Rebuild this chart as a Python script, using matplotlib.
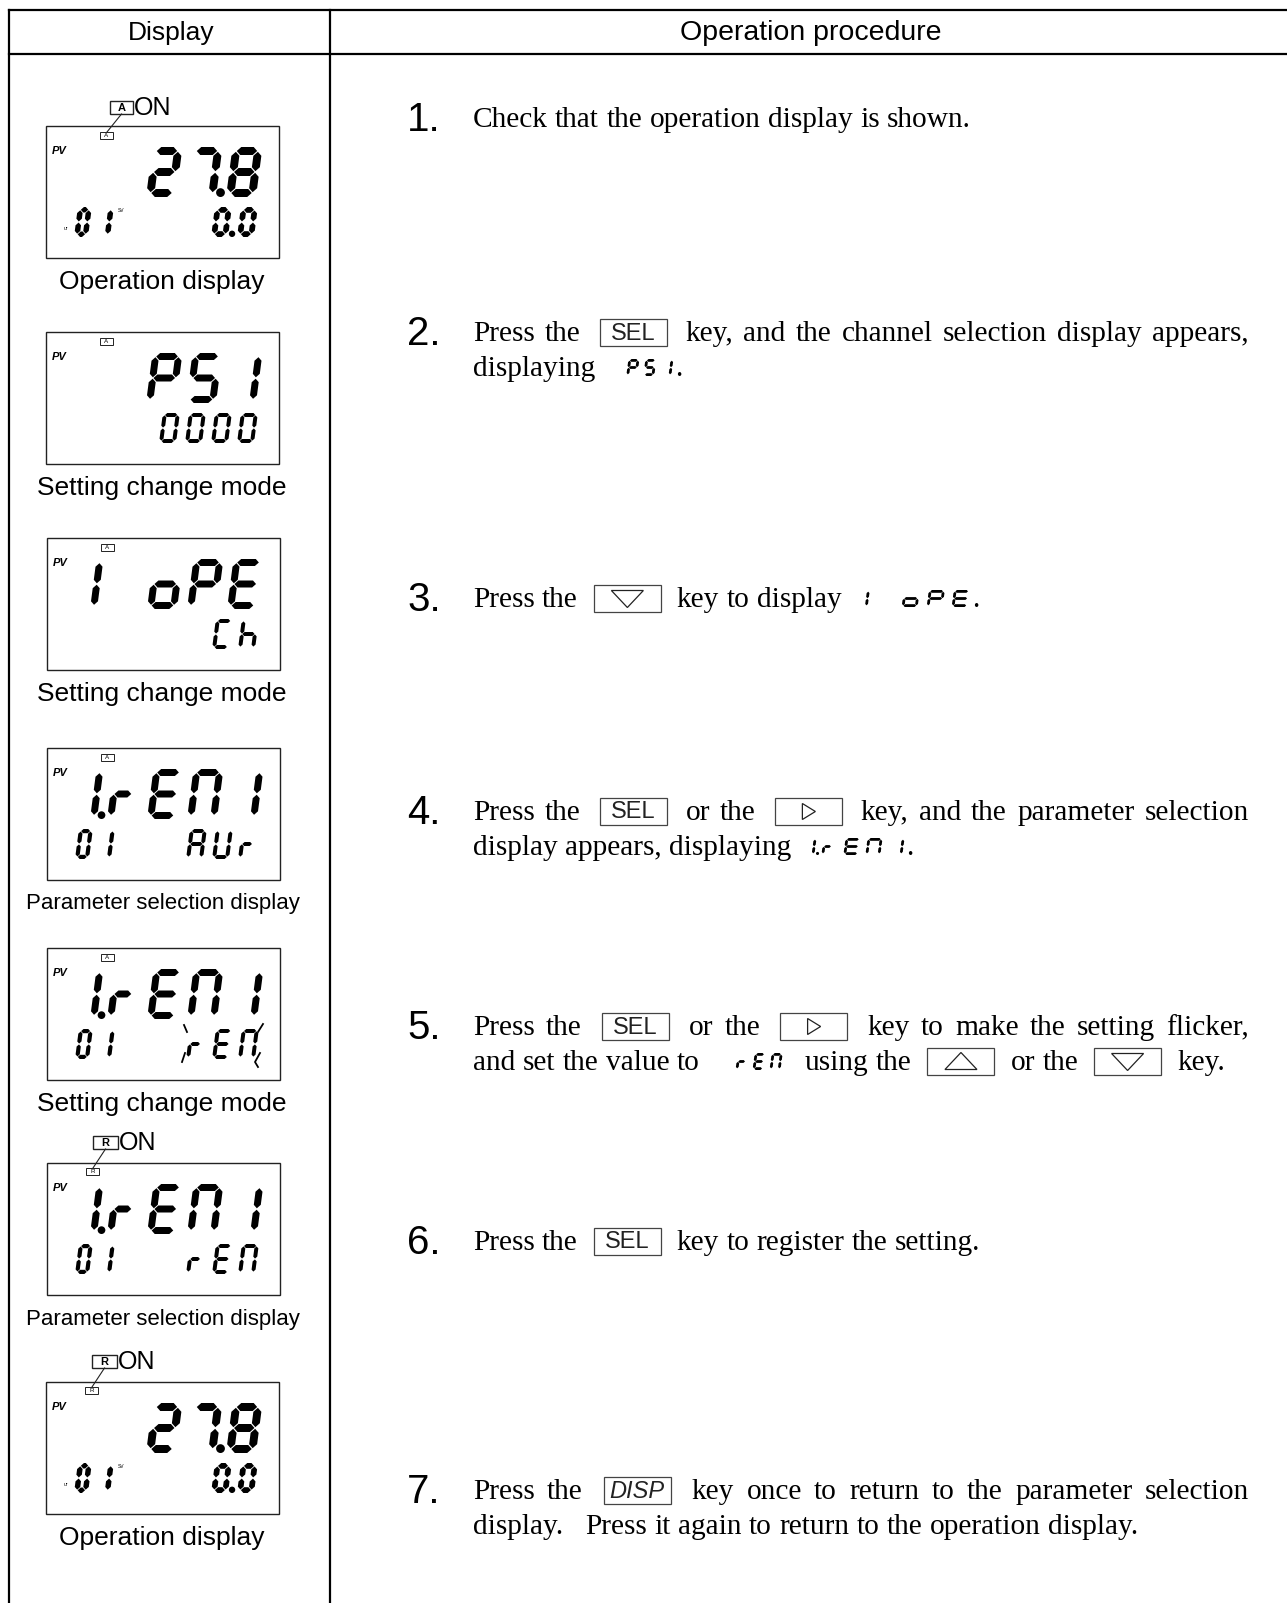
import re
import matplotlib
matplotlib.use("Agg")
import matplotlib.pyplot as plt
from matplotlib.patches import Polygon, Rectangle, Circle
from matplotlib import font_manager

W_PX, H_PX = 1287, 1603

# ---------------- content ----------------
header_left = "Display"
header_right = "Operation procedure"

display_top = ["27.8", "PS1", "1 oPE", "1.rEn1", "1.rEn1", "1.rEn1", "27.8"]
display_bottom_left = ["01", "", "", "01", "01", "01", "01"]
display_bottom_right = ["0.0", "0000", "Ch", "AUr", "rEn", "rEn", "0.0"]
display_lamp = ["A", "A", "A", "A", "A", "R", "R"]
display_lamp_on = [True, False, False, False, False, True, True]
display_flicker = [False, False, False, False, True, False, False]
display_operation = [True, False, False, False, False, False, True]
display_captions = ["Operation display", "Setting change mode", "Setting change mode",
                    "Parameter selection display", "Setting change mode",
                    "Parameter selection display", "Operation display"]

step_numbers = ["1", "2", "3", "4", "5", "6", "7"]
step_lines = [
    ["Check that the operation display is shown."],
    ["Press the [SEL] key, and the channel selection display appears,",
     "displaying {PS1}."],
    ["Press the [DOWN] key to display {1 oPE}."],
    ["Press the [SEL] or the [RIGHT] key, and the parameter selection",
     "display appears, displaying {1.rEn1}."],
    ["Press the [SEL] or the [RIGHT] key to make the setting flicker,",
     "and set the value to {rEn} using the [UP] or the [DOWN] key."],
    ["Press the [SEL] key to register the setting."],
    ["Press the [DISP] key once to return to the parameter selection",
     "display.   Press it again to return to the operation display."],
]
step_justify_first = [False, True, False, True, True, False, True]

# ---------------- layout ----------------
box_left = [46, 46, 47, 47, 47, 47, 46]
box_top = [126, 332, 538, 748, 948, 1163, 1382]
BOX_W, BOX_H = 233, 132
step_baseline = [127, 341, 607, 820, 1035, 1250, 1499]
LINE_GAP = 35
TEXT_X0, TEXT_X1 = 473, 1249
NUM_X = 407
KEY_W, KEY_H = 67, 27
TXT_FS = 21.2
SERIF = ["Liberation Serif", "DejaVu Serif"]
SANS = ["Liberation Sans", "DejaVu Sans"]
font_names = {f.name for f in font_manager.fontManager.ttflist}
NARROW = "Liberation Sans Narrow" in font_names

# inline seven-segment glyph style: pitch, cell width, gap before
inline_seg_style = {"PS1": (17, 11, 31), "1 oPE": (25, 16, 10),
                    "1.rEn1": (22, 15, 8), "rEn": (17, 11, 36)}
SLANT = 0.13

SEGS = {'0': 'abcdef', '1': 'bc', '2': 'abdeg', '3': 'abcdg', '4': 'bcfg', '5': 'acdfg',
        '6': 'acdefg', '7': 'abc', '8': 'abcdefg', '9': 'abcdfg', 'P': 'abefg',
        'S': 'acdfg', 'o': 'cdeg', 'E': 'adefg', 'C': 'adef', 'h': 'cefg',
        'A': 'abcefg', 'U': 'bcdef', 'r': 'er', 'n': 'abcef', ' ': ''}

fig = plt.figure(figsize=(W_PX / 100, H_PX / 100), dpi=100)
ax = fig.add_axes([0, 0, 1, 1])
ax.set_xlim(0, W_PX)
ax.set_ylim(H_PX, 0)
ax.axis('off')
renderer = fig.canvas.get_renderer()


def seg_poly(name, W, H, t):
    h = t / 2
    g = t * 0.1

    def hs(x1, x2, yc):
        return [(x1, yc), (x1 + h, yc + h), (x2 - h, yc + h), (x2, yc), (x2 - h, yc - h), (x1 + h, yc - h)]

    def vs(xc, y1, y2):
        return [(xc, y1), (xc + h, y1 + h), (xc + h, y2 - h), (xc, y2), (xc - h, y2 - h), (xc - h, y1 + h)]

    return {'a': lambda: hs(h + g, W - h - g, H - h),
            'b': lambda: vs(W - h, H / 2 + g, H - h - g),
            'c': lambda: vs(W - h, h + g, H / 2 - g),
            'd': lambda: hs(h + g, W - h - g, h),
            'e': lambda: vs(h, h + g, H / 2 - g),
            'f': lambda: vs(h, H / 2 + g, H - h - g),
            'g': lambda: hs(h + g, W - h - g, H / 2),
            'r': lambda: hs(h + g, max(0.55 * W, 3 * t), H / 2)}[name]()


def parse_cells(s):
    cells = []
    for ch in s:
        if ch == '.' and cells:
            cells[-1][1] = True
        else:
            cells.append([ch, False])
    return cells


def draw_seg(x0, base, s, W, H, t, pitch):
    for i, (ch, dp) in enumerate(parse_cells(s)):
        cx = x0 + i * pitch
        for sg in SEGS[ch]:
            pts = [(cx + x + SLANT * y, base - y) for x, y in seg_poly(sg, W, H, t)]
            ax.add_patch(Polygon(pts, closed=True, fc='black', ec='none'))
        if dp:
            r = t * 0.55
            ax.add_patch(Circle((cx + W + (pitch - W) * 0.45, base - r), r, fc='black', ec='none'))


def seg_width(s, W, H, pitch):
    return (len(parse_cells(s)) - 1) * pitch + W + SLANT * H


def text_width(s, **kw):
    t = ax.text(0, 0, s, **kw)
    w = t.get_window_extent(renderer).width
    t.remove()
    return w


# ---------------- table frame ----------------
ax.plot([9, W_PX], [10, 10], color='black', lw=1.6)
ax.plot([9, W_PX], [54, 54], color='black', lw=1.6)
ax.plot([9, 9], [10, H_PX], color='black', lw=1.6)
ax.plot([330, 330], [10, H_PX], color='black', lw=1.6)
ax.text(171, 33, header_left, ha='center', va='center', fontsize=19, family=SANS)
ax.text(811, 33, header_right, ha='center', va='center', fontsize=20.5, family=SANS)

# ---------------- LCD displays ----------------
for i in range(len(display_top)):
    bx, by = box_left[i], box_top[i]
    bold = display_operation[i]
    ax.add_patch(Rectangle((bx, by), BOX_W, BOX_H, fill=False, ec='#222', lw=1.0))
    ax.text(bx + 6, by + 28, "PV", fontsize=8, style='italic', weight='bold', family=SANS)

    # lamp indicator
    if display_lamp[i] == 'A':
        lx, ly, cbx, cby, cbw = 54, 6, 64, -25, 23
    else:
        lx, ly, cbx, cby, cbw = 39, 5, 46, -27, 25
    ax.add_patch(Rectangle((bx + lx, by + ly), 13, 7, fill=False, ec='#222', lw=0.7))
    ax.text(bx + lx + 6.5, by + ly + 3.8, display_lamp[i], ha='center', va='center',
            fontsize=4.5, family=SANS)
    if display_lamp_on[i]:
        ax.add_patch(Rectangle((bx + cbx, by + cby), cbw, 13, fill=False, ec='#222', lw=1.0))
        ax.text(bx + cbx + cbw / 2, by + cby + 7, display_lamp[i], ha='center', va='center',
                fontsize=8, weight='bold', family=SANS)
        ax.text(bx + cbx + cbw + 1, by + cby + 7, "ON", ha='left', va='center',
                fontsize=18, family=SANS)
        ax.plot([bx + cbx + cbw / 2, bx + lx + 7], [by + cby + 13, by + ly],
                color='#222', lw=0.8)

    # upper row: 5 big cells, right aligned
    top = parse_cells(display_top[i])
    first = 5 - len(top)
    draw_seg(bx + 20 + 40 * first, by + 71, display_top[i], 30, 50,
             8.0 if bold else 7.0, 40)

    # lower row
    if display_bottom_left[i]:
        draw_seg(bx + 28, by + 111, display_bottom_left[i], 14, 30,
                 5.5 if bold else 4.2, 22)
    br = parse_cells(display_bottom_right[i])
    first = 4 - len(br)
    draw_seg(bx + 113 + 26 * first, by + 111, display_bottom_right[i], 17, 30,
             5.8 if bold else 4.0, 26)

    if display_operation[i]:
        ax.text(bx + 18, by + 104, "ur", fontsize=3.5, family=SANS)
        ax.text(bx + 72, by + 86, "SV", fontsize=3.5, family=SANS)

    if display_flicker[i]:
        rx = bx + 113 + 26 * first
        nr = rx + 2 * 26 + 17
        t0, b0 = by + 81, by + 111
        for xs, ys in [([rx - 2, rx + 1], [t0 - 4, t0 + 3]),
                       ([rx - 4, rx - 1], [b0 + 3, b0 - 6]),
                       ([nr + 3, nr + 8], [t0 + 3, t0 - 5]),
                       ([nr + 5, nr, nr + 3], [b0 - 6, b0 + 3, b0 + 8])]:
            ax.plot(xs, ys, color='black', lw=1.3)

    # caption
    cap = display_captions[i]
    if cap.startswith("Parameter"):
        if NARROW:
            ax.text(163, by + BOX_H + 24, cap, ha='center', va='center', fontsize=19,
                    family=["Liberation Sans Narrow", "Liberation Sans"])
        else:
            ax.text(163, by + BOX_H + 24, cap, ha='center', va='center', fontsize=16,
                    family=SANS)
    else:
        ax.text(162, by + BOX_H + 24, cap, ha='center', va='center', fontsize=19, family=SANS)

# ---------------- procedure text ----------------
TOKEN_RE = re.compile(r'(\s*)(\[[A-Z]+\]|\{[^}]*\}|[^\s\[\{]+)')
SPACE_W = (text_width("a a", fontsize=TXT_FS, family=SERIF)
           - 2 * text_width("a", fontsize=TXT_FS, family=SERIF))
SEG_H, SEG_T = 17, 2.8


def draw_key(x, base, kind):
    y0 = base - 22
    ax.add_patch(Rectangle((x, y0), KEY_W, KEY_H, fill=False, ec='#444', lw=0.9))
    cx, cy = x + KEY_W / 2, y0 + KEY_H / 2
    if kind in ("SEL", "DISP"):
        ax.text(cx, cy + 1, kind, ha='center', va='center', fontsize=17, family=SANS,
                style='italic' if kind == "DISP" else 'normal', color='#222')
    else:
        tri = {"DOWN": [(cx - 16, cy - 8), (cx + 16, cy - 8), (cx, cy + 9)],
               "UP": [(cx - 16, cy + 8), (cx + 16, cy + 8), (cx, cy - 9)],
               "RIGHT": [(cx - 6, cy - 8), (cx - 6, cy + 8), (cx + 7, cy)]}[kind]
        ax.add_patch(Polygon(tri, closed=True, fill=False, ec='#222', lw=0.9))


def layout_line(s, base, justify):
    items = []
    for m in TOKEN_RE.finditer(s):
        sp, tok = m.group(1), m.group(2)
        if tok.startswith('['):
            items.append(['key', tok[1:-1], KEY_W, len(sp)])
        elif tok.startswith('{'):
            code = tok[1:-1]
            p, w, _ = inline_seg_style[code]
            items.append(['seg', code, seg_width(code, w, SEG_H, p), len(sp)])
        else:
            items.append(['word', tok, text_width(tok, fontsize=TXT_FS, family=SERIF), len(sp)])
    gaps = [0.0]
    for j in range(1, len(items)):
        prev, it = items[j - 1], items[j]
        if it[3] == 0:
            g = 2.0
        elif it[0] == 'seg':
            g = inline_seg_style[it[1]][2]
        elif prev[0] == 'key' or it[0] == 'key':
            g = 16.0
        elif prev[0] == 'seg':
            g = 22.0
        else:
            g = SPACE_W * it[3]
        gaps.append(g)
    if justify:
        total = sum(it[2] for it in items) + sum(gaps)
        idx = [j for j in range(1, len(items)) if items[j][3] > 0]
        extra = (TEXT_X1 - TEXT_X0 - total) / len(idx)
        for j in idx:
            gaps[j] += extra
    x = TEXT_X0
    for it, g in zip(items, gaps):
        x += g
        if it[0] == 'word':
            ax.text(x, base, it[1], ha='left', va='baseline', fontsize=TXT_FS, family=SERIF)
        elif it[0] == 'key':
            draw_key(x, base, it[1])
        else:
            p, w, _ = inline_seg_style[it[1]]
            draw_seg(x, base, it[1], w, SEG_H, SEG_T, p)
        x += it[2]


for k, num in enumerate(step_numbers):
    base = step_baseline[k]
    ax.text(NUM_X, base + 4, num + ".", ha='left', va='baseline', fontsize=29, family=SANS)
    for li, line in enumerate(step_lines[k]):
        layout_line(line, base + li * LINE_GAP, step_justify_first[k] and li == 0)

fig.savefig("out.png", dpi=100)
